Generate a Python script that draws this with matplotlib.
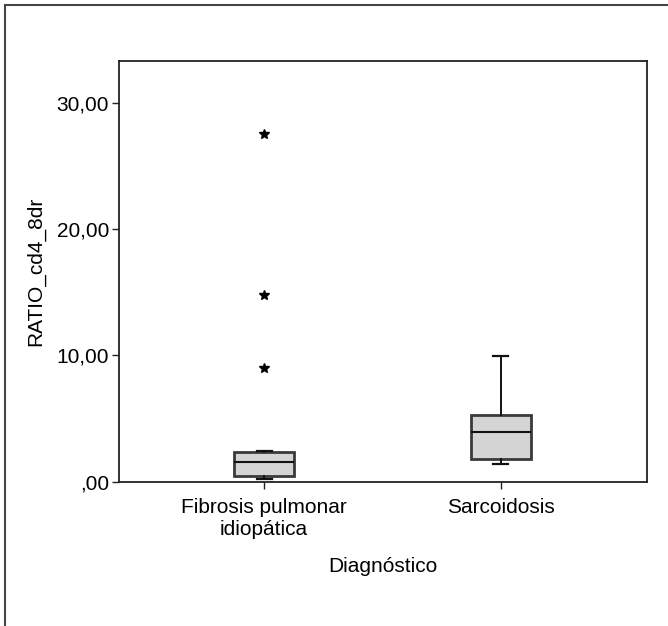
import matplotlib
matplotlib.use("Agg")
import matplotlib.pyplot as plt
from matplotlib.patches import Rectangle

plt.rcParams['font.family'] = ['Liberation Sans', 'DejaVu Sans']

# datos
categorias = ['Fibrosis pulmonar\nidiopática', 'Sarcoidosis']
q1 = [0.45, 1.77]
mediana = [1.58, 3.91]
q3 = [2.37, 5.28]
bigote_inf = [0.24, 1.38]
bigote_sup = [2.43, 9.93]
atipicos = [[27.5, 14.8, 9.0], []]
yticks = [0, 10, 20, 30]
ytick_labels = [',00', '10,00', '20,00', '30,00']

fig = plt.figure(figsize=(6.68, 6.26), dpi=100)

# marco exterior
fig.patches.append(Rectangle((5 / 668, -0.1), 1.2, 1.1 - 5 / 626,
                             transform=fig.transFigure, fill=False,
                             edgecolor='#444444', linewidth=1.5))

ax = fig.add_axes([0.178, 0.2305, 0.7906, 0.672])

stats = []
for i in range(len(categorias)):
    stats.append({
        'whislo': bigote_inf[i], 'q1': q1[i], 'med': mediana[i],
        'q3': q3[i], 'whishi': bigote_sup[i], 'fliers': atipicos[i],
    })

ax.bxp(stats, positions=[1, 2], widths=0.254, patch_artist=True,
       boxprops=dict(facecolor='#d4d4d4', edgecolor='#3a3a3a', linewidth=2),
       medianprops=dict(color='#111111', linewidth=1.5),
       whiskerprops=dict(color='#111111', linewidth=1.4),
       capprops=dict(color='#111111', linewidth=1.6),
       capwidths=0.062,
       flierprops=dict(marker='*', markersize=7, markerfacecolor='black',
                       markeredgecolor='black', linestyle='none'))

ax.set_xlim(0.386, 2.618)
ax.set_ylim(0, 33.3)
ax.set_yticks(yticks)
ax.set_yticklabels(ytick_labels)
ax.set_xticks([1, 2])
ax.set_xticklabels(categorias, linespacing=1.15)
ax.tick_params(labelsize=15, length=5, width=1, color='#222222', pad=2)
ax.tick_params(axis='x', pad=7)
ax.set_xlabel('Diagnóstico', fontsize=15, labelpad=13)
ax.set_ylabel('RATIO_cd4_8dr', fontsize=15, labelpad=8)
for s in ax.spines.values():
    s.set_linewidth(1.3)
    s.set_color('#222222')

fig.savefig('out.png', dpi=100)
